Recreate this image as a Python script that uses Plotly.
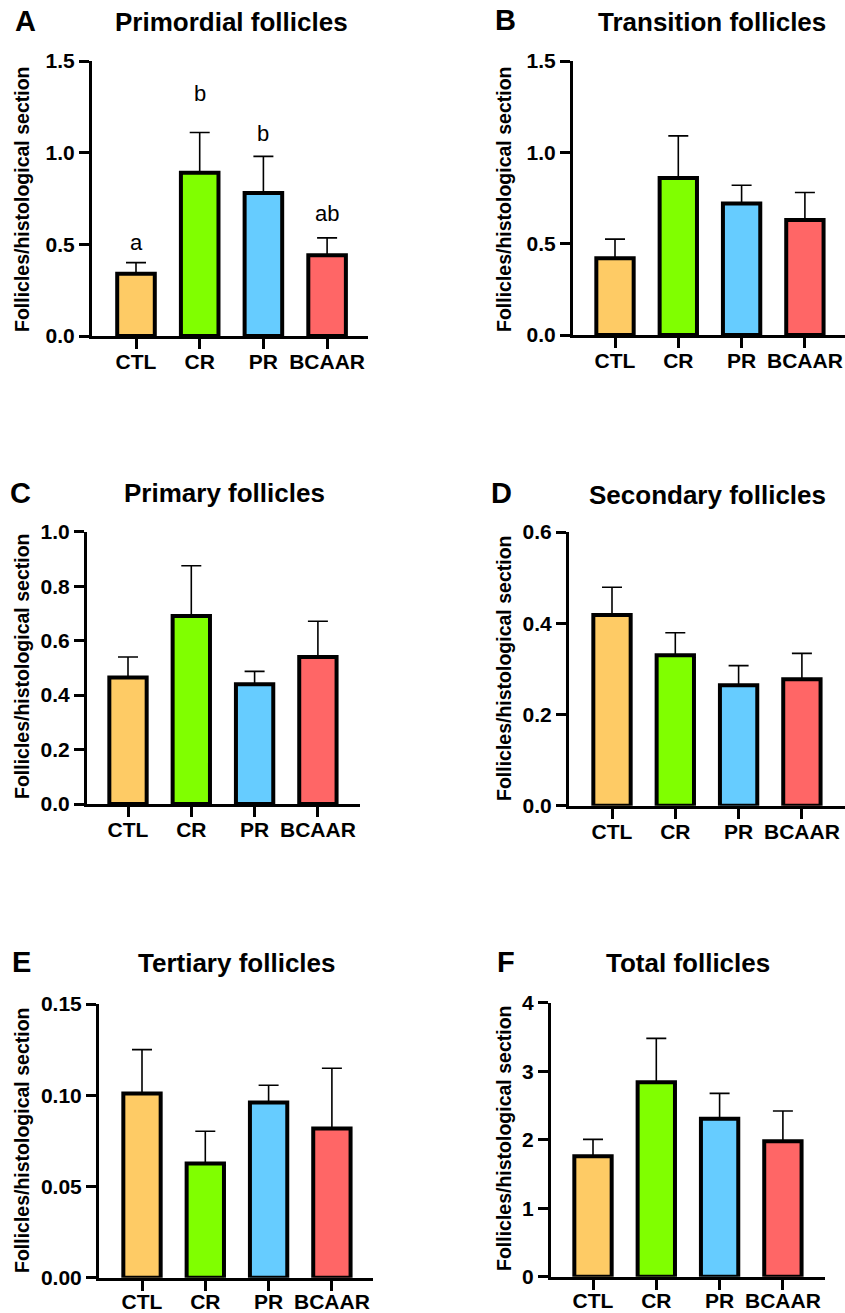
import plotly.graph_objects as go

categories = ["CTL", "CR", "PR", "BCAAR"]
colors = ["#FECB65", "#80FF00", "#66CCFF", "#FF6666"]

panel_letters = ["A", "B", "C", "D", "E", "F"]
panel_titles = ["Primordial follicles", "Transition follicles", "Primary follicles",
                "Secondary follicles", "Tertiary follicles", "Total follicles"]
y_title = "Follicles/histological section"

primordial_mean = [0.34, 0.89, 0.78, 0.44]
primordial_sem = [0.06, 0.22, 0.20, 0.095]
transition_mean = [0.42, 0.86, 0.72, 0.63]
transition_sem = [0.105, 0.23, 0.10, 0.15]
primary_mean = [0.465, 0.69, 0.44, 0.54]
primary_sem = [0.075, 0.185, 0.047, 0.131]
secondary_mean = [0.418, 0.33, 0.264, 0.277]
secondary_sem = [0.061, 0.049, 0.043, 0.057]
tertiary_mean = [0.101, 0.0626, 0.096, 0.0818]
tertiary_sem = [0.024, 0.0177, 0.0095, 0.033]
total_mean = [1.757, 2.837, 2.306, 1.976]
total_sem = [0.248, 0.642, 0.37, 0.442]

primordial_letters = ["a", "b", "b", "ab"]
primordial_letter_y = [0.458, 1.271, 1.053, 0.616]

y_ticks_A = [0, 0.5, 1.0, 1.5]
y_ticks_B = [0, 0.5, 1.0, 1.5]
y_ticks_C = [0, 0.2, 0.4, 0.6, 0.8, 1.0]
y_ticks_D = [0, 0.2, 0.4, 0.6]
y_ticks_E = [0, 0.05, 0.10, 0.15]
y_ticks_F = [0, 1, 2, 3, 4]

means = [primordial_mean, transition_mean, primary_mean, secondary_mean, tertiary_mean, total_mean]
sems = [primordial_sem, transition_sem, primary_sem, secondary_sem, tertiary_sem, total_sem]
yticks = [y_ticks_A, y_ticks_B, y_ticks_C, y_ticks_D, y_ticks_E, y_ticks_F]
tickfmts = [".1f", ".1f", ".1f", ".1f", ".2f", "d"]

W, H = 845, 1313
# geometry (pixels): x-left, x-right, y-top, y-bottom, first bar center, spacing, label standoff
geo = [
    (92, 368, 61, 336, 136, 63.7, -5),
    (573, 845, 61, 335, 615, 63.3, -5),
    (87, 360, 531.7, 804, 128, 63.3, -5),
    (569, 845, 532, 805.7, 612, 63.3, -5),
    (99, 373, 1004, 1277.7, 142, 63.3, -7),
    (551, 825, 1002.7, 1276.7, 593, 63.3, -7),
]
title_pos = [(232, 22), (712, 22), (224, 493), (707, 495), (237, 963), (688, 963)]
letter_pos = [(25, 21), (505, 20), (20, 493), (502, 493), (21, 962), (506, 962)]
ytitle_pos = [(22, 200), (504, 200), (22, 667), (504, 669), (22, 1141), (504, 1139)]

FONT = "Liberation Sans, Arial, sans-serif"
fig = go.Figure()
annotations = []
layout = {}

for i in range(6):
    xl, xr, yt, yb, c0, sp, so = geo[i]
    ax = "" if i == 0 else str(i + 1)
    fig.add_trace(go.Bar(
        x=list(range(4)), y=means[i],
        marker=dict(color=colors, line=dict(color="black", width=4)),
        width=0.59,
        error_y=dict(type="data", symmetric=False, array=sems[i],
                     arrayminus=[0] * 4, color="black", thickness=1.6, width=10),
        xaxis="x" + ax, yaxis="y" + ax, showlegend=False,
    ))
    yr = [0, max(yticks[i])]
    layout["xaxis" + ax] = dict(
        domain=[xl / W, min(xr / W, 1.0)],
        range=[-(c0 - xl) / sp, (xr - c0) / sp],
        anchor="y" + ax, tickvals=list(range(4)), ticktext=categories,
        showline=True, linecolor="black", linewidth=3, automargin=False,
        ticks="outside", ticklen=10, tickwidth=2.5, tickcolor="black",
        ticklabelstandoff=so,
        showgrid=False, zeroline=False, fixedrange=True,
        tickfont=dict(family=FONT, size=21, color="black", weight="bold"),
    )
    layout["yaxis" + ax] = dict(
        domain=[1 - yb / H, 1 - yt / H], range=yr,
        anchor="x" + ax, tickvals=yticks[i], tickformat=tickfmts[i],
        showline=True, linecolor="black", linewidth=3, automargin=False,
        ticks="outside", ticklen=10, tickwidth=2.5, tickcolor="black",
        showgrid=False, zeroline=False, fixedrange=True,
        tickfont=dict(family=FONT, size=21, color="black", weight="bold"),
    )
    tx, ty = title_pos[i]
    annotations.append(dict(text=panel_titles[i], x=tx / W, y=1 - ty / H, xref="paper", yref="paper",
                            showarrow=False, xanchor="center", yanchor="middle",
                            font=dict(family=FONT, size=26, color="black", weight="bold")))
    lx, ly = letter_pos[i]
    annotations.append(dict(text=panel_letters[i], x=lx / W, y=1 - ly / H, xref="paper", yref="paper",
                            showarrow=False, xanchor="center", yanchor="middle",
                            font=dict(family=FONT, size=29, color="black", weight="bold")))
    px, py = ytitle_pos[i]
    annotations.append(dict(text=y_title, x=px / W, y=1 - py / H, xref="paper", yref="paper",
                            showarrow=False, xanchor="center", yanchor="middle", textangle=-90,
                            font=dict(family=FONT, size=19.5, color="black", weight="bold")))

for j, lab in enumerate(primordial_letters):
    annotations.append(dict(text=lab, x=j, y=primordial_letter_y[j],
                            xref="x", yref="y", showarrow=False, xanchor="center",
                            yanchor="bottom", yshift=-5,
                            font=dict(family=FONT, size=22, color="black")))

fig.update_layout(
    width=W, height=H, margin=dict(l=0, r=0, t=0, b=0, autoexpand=False),
    paper_bgcolor="white", plot_bgcolor="white",
    annotations=annotations, bargap=0.4, **layout,
)
fig.write_html("out.html", config={"displayModeBar": False},
               post_script="document.body.style.margin='0px';document.body.style.padding='0px';")
